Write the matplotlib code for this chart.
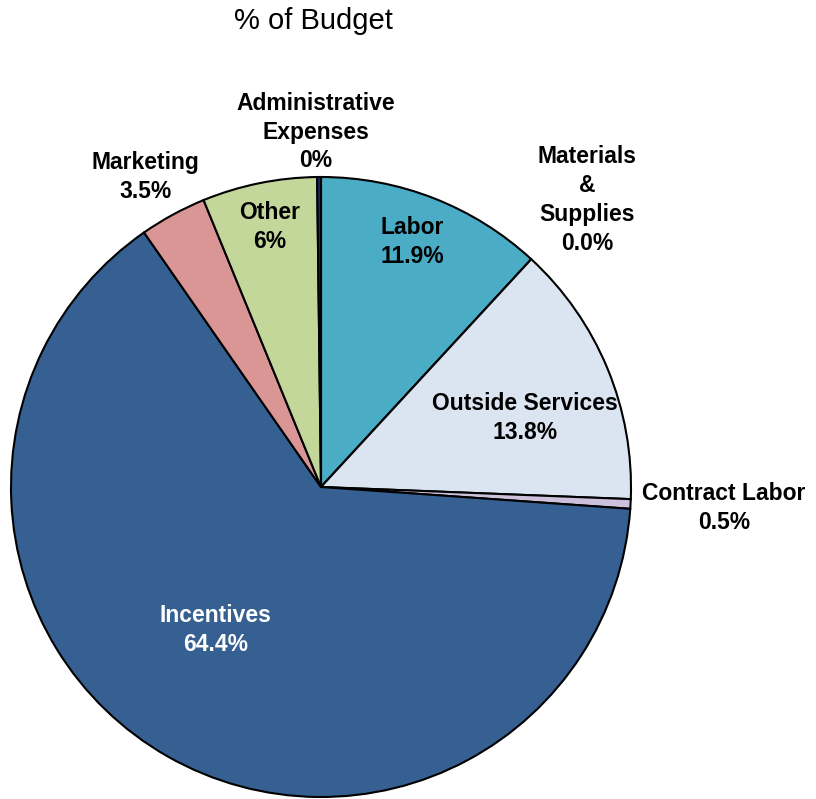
import matplotlib
matplotlib.use("Agg")
import matplotlib.pyplot as plt

categories = ["Labor", "Materials\n&\nSupplies", "Outside Services", "Contract Labor",
              "Incentives", "Marketing", "Other", "Administrative\nExpenses"]
values = [11.9, 0.0, 13.8, 0.5, 64.4, 3.5, 6.0, 0.2]
pct_labels = ["11.9%", "0.0%", "13.8%", "0.5%", "64.4%", "3.5%", "6%", "0%"]
colors = ["#4bacc6", "#dbe5f1", "#dbe5f1", "#ccc0da", "#366092", "#da9694", "#c4d79b", "#1f2a6b"]
# label centres in data units (pie radius = 1)
label_pos = [(0.294, 0.79), (0.858, 0.926), (0.658, 0.223), (1.30, -0.068),
             (-0.339, -0.461), (-0.565, 1.0), (-0.165, 0.84), (-0.016, 1.145)]
label_colors = ["black"] * 4 + ["white"] + ["black"] * 3

plt.rcParams['font.family'] = ['Liberation Sans', 'DejaVu Sans']
fig = plt.figure(figsize=(8.16, 7.99), dpi=100)
ax = fig.add_axes([11 / 816, 2 / 799, 620 / 816, 620 / 799])
ax.pie(values, colors=colors, startangle=90, counterclock=False,
       wedgeprops=dict(edgecolor="black", linewidth=1.5), radius=1)
ax.set_xlim(-1, 1)
ax.set_ylim(-1, 1)
ax.set_aspect("equal")
ax.axis("off")

for cat, pct, (x, y), c in zip(categories, pct_labels, label_pos, label_colors):
    ax.text(x, y, f"{cat}\n{pct}", ha="center", va="center", fontsize=16.5,
            fontweight="bold", color=c, linespacing=1.33, clip_on=False)

fig.text(313 / 816, 1 - 21 / 799, "% of Budget", ha="center", va="center", fontsize=21)

fig.savefig("out.png", dpi=100)
